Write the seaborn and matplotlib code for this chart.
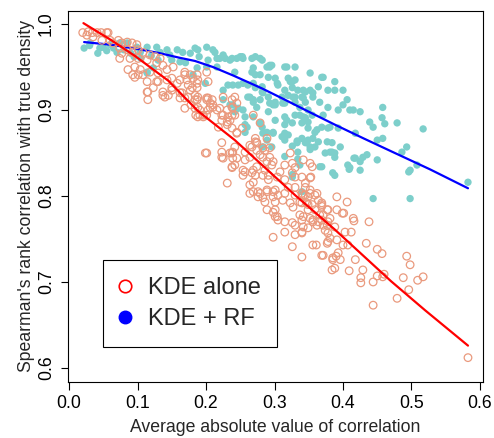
import numpy as np
import pandas as pd
import matplotlib
matplotlib.use("Agg")
import matplotlib.pyplot as plt
from matplotlib.lines import Line2D
import seaborn as sns

# KDE + RF points (average |corr|, Spearman rank corr)
rf_points = [
    (0.022, 0.972), (0.031, 0.978), (0.042, 0.966), (0.050, 0.973), (0.060, 0.976), (0.074, 0.978),
    (0.085, 0.978), (0.099, 0.973), (0.114, 0.973), (0.128, 0.973), (0.143, 0.970), (0.158, 0.970),
    (0.166, 0.967), (0.177, 0.966), (0.184, 0.972), (0.201, 0.973), (0.210, 0.970), (0.216, 0.960),
    (0.225, 0.964), (0.235, 0.958), (0.245, 0.960), (0.254, 0.960), (0.267, 0.960), (0.279, 0.960),
    (0.293, 0.952), (0.267, 0.944), (0.279, 0.941), (0.291, 0.938), (0.301, 0.937), (0.254, 0.931),
    (0.239, 0.929), (0.225, 0.923), (0.269, 0.931), (0.264, 0.915), (0.279, 0.912), (0.283, 0.920),
    (0.293, 0.908), (0.274, 0.903), (0.254, 0.900), (0.239, 0.906), (0.225, 0.912), (0.269, 0.892),
    (0.260, 0.880), (0.279, 0.885), (0.283, 0.873), (0.289, 0.865), (0.298, 0.874), (0.104, 0.967),
    (0.114, 0.944), (0.123, 0.949), (0.133, 0.967), (0.147, 0.964), (0.201, 0.950), (0.216, 0.950),
    (0.250, 0.962), (0.238, 0.960), (0.188, 0.970), (0.213, 0.967), (0.203, 0.958), (0.220, 0.960),
    (0.228, 0.960), (0.253, 0.962), (0.272, 0.962), (0.282, 0.958), (0.289, 0.950), (0.296, 0.952),
    (0.315, 0.950), (0.330, 0.950), (0.242, 0.944), (0.269, 0.949), (0.272, 0.941), (0.320, 0.937),
    (0.326, 0.933), (0.330, 0.935), (0.352, 0.943), (0.371, 0.938), (0.388, 0.933), (0.232, 0.929),
    (0.247, 0.929), (0.261, 0.929), (0.272, 0.926), (0.282, 0.927), (0.305, 0.929), (0.315, 0.923),
    (0.334, 0.923), (0.345, 0.921), (0.364, 0.927), (0.378, 0.923), (0.261, 0.915), (0.269, 0.912),
    (0.282, 0.921), (0.291, 0.915), (0.301, 0.909), (0.320, 0.917), (0.330, 0.915), (0.340, 0.915),
    (0.356, 0.920), (0.356, 0.915), (0.235, 0.906), (0.247, 0.902), (0.269, 0.909), (0.291, 0.898),
    (0.301, 0.906), (0.315, 0.908), (0.330, 0.909), (0.345, 0.909), (0.366, 0.909), (0.378, 0.903),
    (0.242, 0.898), (0.257, 0.892), (0.315, 0.892), (0.330, 0.894), (0.337, 0.894), (0.345, 0.891),
    (0.355, 0.894), (0.371, 0.894), (0.257, 0.883), (0.282, 0.880), (0.289, 0.874), (0.315, 0.883),
    (0.326, 0.885), (0.340, 0.885), (0.349, 0.879), (0.359, 0.874), (0.369, 0.880), (0.378, 0.879),
    (0.320, 0.871), (0.340, 0.867), (0.364, 0.863), (0.257, 0.874), (0.293, 0.950), (0.318, 0.950),
    (0.369, 0.938), (0.304, 0.931), (0.323, 0.933), (0.326, 0.926), (0.342, 0.923), (0.352, 0.923),
    (0.388, 0.923), (0.400, 0.923), (0.406, 0.912), (0.400, 0.906), (0.393, 0.900), (0.410, 0.900),
    (0.415, 0.900), (0.425, 0.898), (0.458, 0.903), (0.342, 0.914), (0.327, 0.915), (0.311, 0.915),
    (0.298, 0.906), (0.312, 0.908), (0.337, 0.903), (0.349, 0.900), (0.457, 0.891), (0.439, 0.886),
    (0.461, 0.884), (0.479, 0.885), (0.444, 0.880), (0.418, 0.873), (0.393, 0.879), (0.381, 0.880),
    (0.362, 0.877), (0.342, 0.892), (0.349, 0.886), (0.301, 0.888), (0.318, 0.888), (0.298, 0.873),
    (0.315, 0.873), (0.311, 0.869), (0.347, 0.862), (0.352, 0.857), (0.359, 0.857), (0.356, 0.867),
    (0.377, 0.863), (0.384, 0.862), (0.396, 0.857), (0.381, 0.851), (0.388, 0.850), (0.374, 0.850),
    (0.333, 0.862), (0.334, 0.851), (0.337, 0.836), (0.369, 0.834), (0.388, 0.824), (0.407, 0.836),
    (0.410, 0.833), (0.418, 0.844), (0.425, 0.840), (0.429, 0.845), (0.435, 0.848), (0.450, 0.842),
    (0.450, 0.865), (0.458, 0.867), (0.486, 0.851), (0.493, 0.857), (0.498, 0.830), (0.508, 0.836),
    (0.517, 0.878), (0.5825, 0.816), (0.425, 0.830), (0.409, 0.831), (0.496, 0.828), (0.444, 0.797),
    (0.498, 0.797), (0.315, 0.846), (0.334, 0.843), (0.388, 0.845), (0.416, 0.844), (0.326, 0.825),
    (0.340, 0.805), (0.283, 0.857), (0.296, 0.857), (0.315, 0.865), (0.326, 0.858), (0.333, 0.864),
    (0.345, 0.862), (0.349, 0.865), (0.352, 0.854), (0.384, 0.851), (0.366, 0.834), (0.326, 0.822),
    (0.385, 0.827), (0.114, 0.943), (0.162, 0.956), (0.187, 0.949), (0.181, 0.941), (0.199, 0.931),
    (0.030, 0.975), (0.045, 0.972), (0.055, 0.969), (0.065, 0.972), (0.070, 0.967), (0.080, 0.970),
    (0.090, 0.966), (0.095, 0.962), (0.105, 0.960), (0.120, 0.963), (0.130, 0.958), (0.150, 0.958),
    (0.170, 0.955), (0.190, 0.962),
]

# KDE alone points
kde_points = [
    (0.020, 0.990), (0.028, 0.991), (0.026, 0.987), (0.034, 0.990), (0.035, 0.985), (0.041, 0.990),
    (0.055, 0.990), (0.048, 0.981), (0.060, 0.981), (0.064, 0.978), (0.072, 0.981), (0.077, 0.978),
    (0.085, 0.979), (0.092, 0.978), (0.099, 0.976), (0.074, 0.972), (0.077, 0.966), (0.085, 0.970),
    (0.092, 0.967), (0.101, 0.970), (0.108, 0.967), (0.118, 0.964), (0.126, 0.962), (0.133, 0.960),
    (0.074, 0.960), (0.089, 0.960), (0.101, 0.960), (0.114, 0.958), (0.128, 0.955), (0.086, 0.947),
    (0.096, 0.950), (0.104, 0.947), (0.096, 0.938), (0.108, 0.941), (0.118, 0.944), (0.130, 0.943),
    (0.143, 0.947), (0.152, 0.950), (0.137, 0.952), (0.114, 0.933), (0.128, 0.933), (0.143, 0.935),
    (0.150, 0.937), (0.162, 0.935), (0.169, 0.944), (0.177, 0.941), (0.172, 0.935), (0.181, 0.937),
    (0.187, 0.931), (0.180, 0.926), (0.201, 0.944), (0.114, 0.921), (0.115, 0.912), (0.137, 0.917),
    (0.150, 0.923), (0.165, 0.920), (0.162, 0.914), (0.174, 0.915), (0.184, 0.912), (0.188, 0.903),
    (0.169, 0.902), (0.201, 0.914), (0.206, 0.908), (0.210, 0.903), (0.216, 0.900), (0.225, 0.894),
    (0.238, 0.894), (0.239, 0.903), (0.188, 0.892), (0.196, 0.894), (0.223, 0.888), (0.231, 0.883),
    (0.238, 0.879), (0.245, 0.873), (0.253, 0.879), (0.201, 0.850), (0.223, 0.851), (0.223, 0.845),
    (0.238, 0.850), (0.239, 0.844), (0.242, 0.836), (0.238, 0.833), (0.231, 0.815), (0.254, 0.830),
    (0.254, 0.824), (0.267, 0.857), (0.274, 0.862), (0.283, 0.856), (0.293, 0.856), (0.264, 0.845),
    (0.279, 0.848), (0.289, 0.840), (0.298, 0.840), (0.267, 0.827), (0.274, 0.834), (0.283, 0.824),
    (0.291, 0.819), (0.264, 0.813), (0.269, 0.805), (0.279, 0.803), (0.289, 0.805), (0.298, 0.805),
    (0.276, 0.799), (0.047, 0.990), (0.057, 0.990), (0.145, 0.917), (0.169, 0.914), (0.178, 0.906),
    (0.185, 0.894), (0.093, 0.941), (0.101, 0.941), (0.115, 0.921), (0.123, 0.926), (0.130, 0.933),
    (0.137, 0.921), (0.140, 0.915), (0.150, 0.926), (0.158, 0.931), (0.162, 0.920), (0.169, 0.941),
    (0.174, 0.929), (0.177, 0.923), (0.184, 0.917), (0.187, 0.912), (0.184, 0.902), (0.191, 0.900),
    (0.201, 0.912), (0.203, 0.900), (0.201, 0.894), (0.199, 0.850), (0.187, 0.941), (0.188, 0.935),
    (0.187, 0.926), (0.203, 0.933), (0.188, 0.915), (0.203, 0.914), (0.209, 0.912), (0.210, 0.906),
    (0.206, 0.903), (0.225, 0.915), (0.238, 0.912), (0.242, 0.915), (0.245, 0.908), (0.238, 0.903),
    (0.220, 0.902), (0.231, 0.900), (0.191, 0.894), (0.196, 0.892), (0.223, 0.894), (0.232, 0.892),
    (0.242, 0.894), (0.269, 0.894), (0.279, 0.885), (0.218, 0.880), (0.231, 0.886), (0.235, 0.888),
    (0.245, 0.874), (0.223, 0.862), (0.272, 0.867), (0.274, 0.862), (0.289, 0.867), (0.225, 0.844),
    (0.235, 0.850), (0.238, 0.834), (0.239, 0.851), (0.245, 0.844), (0.242, 0.857), (0.257, 0.851),
    (0.257, 0.842), (0.264, 0.859), (0.272, 0.863), (0.274, 0.853), (0.286, 0.853), (0.293, 0.845),
    (0.296, 0.836), (0.269, 0.830), (0.257, 0.828), (0.272, 0.824), (0.269, 0.816), (0.276, 0.805),
    (0.289, 0.807), (0.264, 0.803), (0.283, 0.798), (0.286, 0.793), (0.289, 0.784), (0.301, 0.807),
    (0.298, 0.799), (0.305, 0.801), (0.312, 0.795), (0.315, 0.803), (0.301, 0.793), (0.301, 0.784),
    (0.301, 0.776), (0.305, 0.772), (0.315, 0.770), (0.323, 0.792), (0.327, 0.787), (0.330, 0.801),
    (0.337, 0.793), (0.340, 0.803), (0.345, 0.801), (0.352, 0.803), (0.347, 0.792), (0.355, 0.790),
    (0.349, 0.784), (0.337, 0.778), (0.340, 0.772), (0.326, 0.769), (0.330, 0.766), (0.342, 0.764),
    (0.352, 0.774), (0.356, 0.772), (0.362, 0.766), (0.369, 0.772), (0.371, 0.766), (0.377, 0.766),
    (0.349, 0.763), (0.340, 0.758), (0.330, 0.755), (0.369, 0.790), (0.377, 0.784), (0.371, 0.778),
    (0.381, 0.774), (0.315, 0.758), (0.298, 0.752), (0.326, 0.741), (0.340, 0.729), (0.369, 0.731),
    (0.356, 0.743), (0.377, 0.745), (0.381, 0.751), (0.378, 0.757), (0.320, 0.810), (0.330, 0.810),
    (0.315, 0.819), (0.304, 0.822), (0.291, 0.824), (0.326, 0.827), (0.330, 0.833), (0.340, 0.822),
    (0.330, 0.822), (0.352, 0.821), (0.345, 0.815), (0.352, 0.807), (0.362, 0.803), (0.364, 0.795),
    (0.369, 0.792), (0.342, 0.842), (0.352, 0.838), (0.355, 0.834), (0.323, 0.850), (0.326, 0.838),
    (0.315, 0.836), (0.308, 0.828), (0.283, 0.845), (0.286, 0.830), (0.353, 0.822), (0.345, 0.810),
    (0.359, 0.801), (0.342, 0.801), (0.349, 0.799), (0.340, 0.792), (0.349, 0.790), (0.359, 0.784),
    (0.369, 0.788), (0.378, 0.784), (0.391, 0.799), (0.406, 0.793), (0.391, 0.784), (0.399, 0.780),
    (0.401, 0.780), (0.366, 0.778), (0.356, 0.770), (0.342, 0.776), (0.364, 0.770), (0.374, 0.760),
    (0.378, 0.770), (0.388, 0.764), (0.415, 0.774), (0.416, 0.771), (0.438, 0.770), (0.340, 0.757),
    (0.403, 0.758), (0.412, 0.758), (0.391, 0.749), (0.378, 0.747), (0.400, 0.743), (0.407, 0.743),
    (0.434, 0.745), (0.361, 0.743), (0.371, 0.731), (0.385, 0.728), (0.390, 0.730), (0.393, 0.734),
    (0.396, 0.726), (0.385, 0.726), (0.418, 0.726), (0.450, 0.738), (0.457, 0.733), (0.388, 0.716),
    (0.384, 0.714), (0.409, 0.713), (0.429, 0.714), (0.450, 0.707), (0.460, 0.709), (0.458, 0.706),
    (0.426, 0.705), (0.426, 0.699), (0.444, 0.700), (0.488, 0.705), (0.496, 0.691), (0.509, 0.702),
    (0.517, 0.706), (0.493, 0.730), (0.498, 0.720), (0.479, 0.681), (0.444, 0.673), (0.5825, 0.612),
    (0.298, 0.781), (0.304, 0.776),
]

# lowess fits
rf_fit_x = [0.022, 0.06, 0.10, 0.133, 0.16, 0.184, 0.21, 0.24, 0.282, 0.31, 0.35, 0.388, 0.43, 0.473, 0.527, 0.5825]
rf_fit_y = [0.979, 0.976, 0.971, 0.966, 0.961, 0.957, 0.950, 0.940, 0.925, 0.914, 0.898, 0.883, 0.867, 0.851, 0.831, 0.809]
kde_fit_x = [0.021, 0.06, 0.096, 0.145, 0.188, 0.242, 0.286, 0.33, 0.388, 0.429, 0.47, 0.52, 0.5825]
kde_fit_y = [1.001, 0.982, 0.963, 0.934, 0.899, 0.865, 0.833, 0.801, 0.761, 0.731, 0.701, 0.667, 0.626]

x_ticks = [0.0, 0.1, 0.2, 0.3, 0.4, 0.5, 0.6]
y_ticks = [0.6, 0.7, 0.8, 0.9, 1.0]

teal = "#7DCFCB"
salmon = "#EA9A7E"

rf = pd.DataFrame(rf_points, columns=["x", "y"])
kde = pd.DataFrame(kde_points, columns=["x", "y"])

sns.set_style("white")
plt.rcParams["font.family"] = ["Liberation Sans", "DejaVu Sans"]

fig = plt.figure(figsize=(4.94, 4.38), dpi=100)
ax = fig.add_axes([0.1377, 0.1279, 0.84, 0.8477])

sns.scatterplot(data=rf, x="x", y="y", color=teal, edgecolor="none", s=28, ax=ax, zorder=1)
sns.lineplot(x=rf_fit_x, y=rf_fit_y, color="#0000FF", linewidth=1.6, sort=False, estimator=None, ax=ax, zorder=2)
sns.scatterplot(data=kde, x="x", y="y", color=salmon, facecolor="none", edgecolor=salmon,
                linewidth=0.9, s=30, ax=ax, zorder=3)
sns.lineplot(x=kde_fit_x, y=kde_fit_y, color="#FF0000", linewidth=1.6, sort=False, estimator=None, ax=ax, zorder=4)

ax.set_xlim(-0.0015, 0.6044)
ax.set_ylim(0.5837, 1.0155)
ax.set_xticks(x_ticks)
ax.set_xticklabels([f"{t:.1f}" for t in x_ticks])
ax.set_yticks(y_ticks)
ax.set_yticklabels([f"{t:.1f}" for t in y_ticks], rotation=90, va="center")
ax.tick_params(direction="out", length=5.4, width=0.8, labelsize=12.7, colors="black", pad=4,
               bottom=True, left=True)
for s in ax.spines.values():
    s.set_color("black")
    s.set_linewidth(0.8)

ax.set_xlabel("Average absolute value of correlation", fontsize=12.7, labelpad=5)
ax.set_ylabel("Spearman's rank correlation with true density", fontsize=12.7, labelpad=2)

handles = [
    Line2D([], [], marker="o", ls="", mfc="none", mec="#FF0000", mew=1.2, ms=9),
    Line2D([], [], marker="o", ls="", mfc="#0000FF", mec="#0000FF", ms=9),
]
ax.legend(handles, ["KDE alone", "KDE + RF"], loc="lower left", bbox_to_anchor=(0.0843, 0.0943),
          borderaxespad=0, fontsize=17, frameon=True, fancybox=False, framealpha=1,
          edgecolor="black", handlelength=0.5, handletextpad=0.7, borderpad=0.7, labelspacing=0.4)
ax.get_legend().get_frame().set_linewidth(0.8)

fig.savefig("out.png", dpi=100)
